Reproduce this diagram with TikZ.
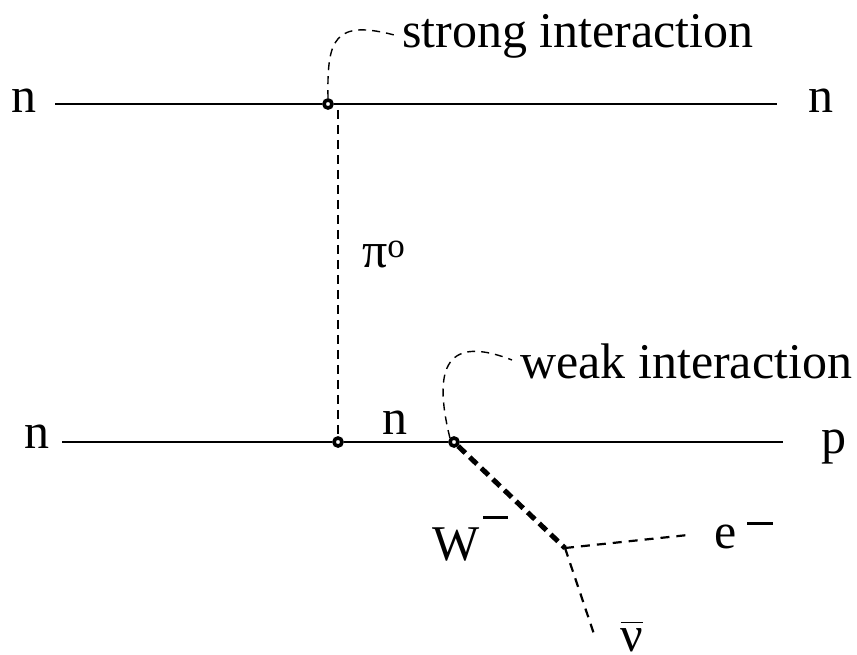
\documentclass[tikz,border=0pt]{standalone}
\usepackage{fontspec}
\setmainfont{Liberation Serif}
\begin{document}
\begin{tikzpicture}[x=1pt,y=-1pt,
  every node/.style={font=\fontsize{50}{60}\selectfont,inner sep=0pt},
  vtx/.style={circle,draw,fill=white,line width=3.6pt,minimum size=8pt},
  nucleon/.style={line width=2.8pt},
  pion/.style={line width=2.4pt,dash pattern=on 9pt off 6pt},
  wboson/.style={line width=5pt,dash pattern=on 10pt off 6pt},
  lepton/.style={line width=2.2pt,dash pattern=on 9pt off 7pt},
  note/.style={line width=1.4pt,dash pattern=on 8pt off 6pt}]
\useasboundingbox (0,0) rectangle (857,654);
% particle labels
\node[anchor=base] (nTL) at (24,112) {n};
\node[anchor=base] (nTR) at (821,112) {n};
\node[anchor=base] (nBL) at (37,448) {n};
\node[anchor=base] (pBR) at (834,453) {p};
\node[anchor=base] (nMid) at (395,434) {n};
\node[anchor=base west] (piLab) at (362,267) {π\textsuperscript{o}};
\node[anchor=base west] (wLab) at (432,560) {W\hspace{0.08em}\rule[0.83em]{0.5em}{0.06em}};
\node[anchor=base west] (eLab) at (714,548) {e\hspace{0.22em}\rule[0.47em]{0.52em}{0.06em}};
\node[anchor=base] (nuLab) at (632,651) {$\overline{\mbox{ν}\rule{0pt}{0.54em}}$};
\node[anchor=base west] (strong) at (402,47) {strong interaction};
\node[anchor=base west] (weak) at (520,378) {weak interaction};
% line ends and vertices
\coordinate (aTL) at (55,104); \coordinate (aTR) at (777,104);
\coordinate (aBL) at (62,442); \coordinate (aBR) at (783,442);
\node[vtx] (vs) at (328,104) {};
\node[vtx] (vn) at (338,442) {};
\node[vtx] (vw) at (454,442) {};
\coordinate (vd) at (565,548);
\coordinate (eEnd) at (688,535);
\coordinate (nuEnd) at (595,637);
% nucleon lines
\draw[nucleon] (aTL) -- (vs) -- (aTR);
\draw[nucleon] (aBL) -- (vn) -- (vw) -- (aBR);
% exchanged and decay lines
\draw[pion] (vn.north |- vs.south) -- (vn.north);
\draw[wboson] (vw.south east) -- (vd);
\draw[lepton] (vd) -- (eEnd);
\draw[lepton] (vd) -- (nuEnd);
% notes
\draw[note] (vs.north) .. controls (327,40) and (333,18) .. ([shift={(-4,-11)}]strong.base west);
\draw[note] (vw.north west) .. controls (432,365) and (448,335) .. ([shift={(-8,-18)}]weak.base west);
\end{tikzpicture}
\end{document}
